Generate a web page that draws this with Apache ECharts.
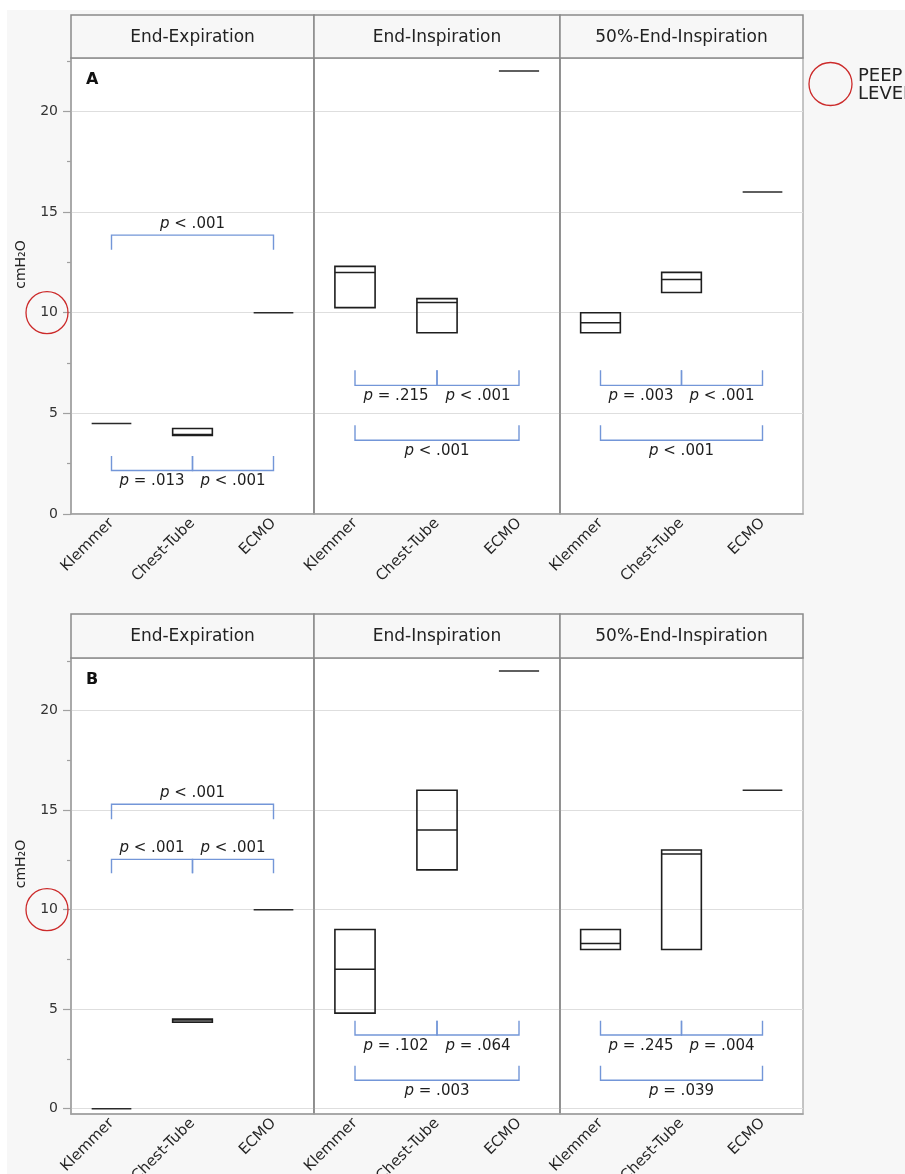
<!DOCTYPE html>
<html><head><meta charset="utf-8">
<script src="https://cdn.jsdelivr.net/npm/echarts@6/dist/echarts.min.js"></script>
<style>html,body{margin:0;padding:0;background:#fff}#c{width:905px;height:1174px}</style>
</head><body><div id="c"></div>
<script>
// ---------- data ----------
const categories = ['Klemmer', 'Chest-Tube', 'ECMO'];
const facetTitles = ['End-Expiration', 'End-Inspiration', '50%-End-Inspiration'];
const panelLabels = ['A', 'B'];
const yTickValues = [0, 5, 10, 15, 20];
const yMinorTickValues = [2.5, 7.5, 12.5, 17.5, 22.5];
const yRangeA = [0, 22.65];
const yRangeB = [-0.27, 22.65];
const peepLevel = 10;
const yAxisTitle = 'cmH₂O';
const legendLines = ['PEEP', 'LEVEL'];

// Panel A (low / median / high per category)
const aExpLow = [4.5, 3.9, 10];
const aExpMed = [4.5, 3.95, 10];
const aExpHigh = [4.5, 4.25, 10];
const aInsLow = [10.25, 9, 22];
const aInsMed = [12, 10.5, 22];
const aInsHigh = [12.3, 10.7, 22];
const aHalfLow = [9, 11, 16];
const aHalfMed = [9.5, 11.65, 16];
const aHalfHigh = [10, 12, 16];

// Panel B
const bExpLow = [0, 4.35, 10];
const bExpMed = [0, 4.45, 10];
const bExpHigh = [0, 4.5, 10];
const bInsLow = [4.8, 12, 22];
const bInsMed = [7, 14, 22];
const bInsHigh = [9, 16, 22];
const bHalfLow = [8, 8, 16];
const bHalfMed = [8.3, 12.8, 16];
const bHalfHigh = [9, 13, 16];

// brackets: [fromCategory, toCategory, lineValue, tipValue, label]
const aExpBrackets = [[0, 2, 13.85, 13.13, 'p < .001'], [0, 1, 2.16, 2.88, 'p = .013'], [1, 2, 2.16, 2.88, 'p < .001']];
const aInsBrackets = [[0, 1, 6.39, 7.14, 'p = .215'], [1, 2, 6.39, 7.14, 'p < .001'], [0, 2, 3.66, 4.41, 'p < .001']];
const aHalfBrackets = [[0, 1, 6.39, 7.14, 'p = .003'], [1, 2, 6.39, 7.14, 'p < .001'], [0, 2, 3.66, 4.41, 'p < .001']];
const bExpBrackets = [[0, 2, 15.3, 14.54, 'p < .001'], [0, 1, 12.53, 11.83, 'p < .001'], [1, 2, 12.53, 11.83, 'p < .001']];
const bInsBrackets = [[0, 1, 3.7, 4.42, 'p = .102'], [1, 2, 3.7, 4.42, 'p = .064'], [0, 2, 1.43, 2.15, 'p = .003']];
const bHalfBrackets = [[0, 1, 3.7, 4.42, 'p = .245'], [1, 2, 3.7, 4.42, 'p = .004'], [0, 2, 1.43, 2.15, 'p = .039']];

// ---------- layout ----------
const FF = 'DejaVu Sans';
const FX = [71, 314, 560, 803];
const PANELS = [
  { headerTop: 15, top: 58, bottom: 514, range: yRangeA,
    facets: [[aExpLow, aExpMed, aExpHigh, aExpBrackets], [aInsLow, aInsMed, aInsHigh, aInsBrackets], [aHalfLow, aHalfMed, aHalfHigh, aHalfBrackets]] },
  { headerTop: 614, top: 658, bottom: 1114, range: yRangeB,
    facets: [[bExpLow, bExpMed, bExpHigh, bExpBrackets], [bInsLow, bInsMed, bInsHigh, bInsBrackets], [bHalfLow, bHalfMed, bHalfHigh, bHalfBrackets]] }
];
const BRACKET_COLOR = '#7396d8';

const grid = [], xAxis = [], yAxis = [], series = [];
PANELS.forEach((P, p) => {
  P.facets.forEach((F, f) => {
    const g = p * 3 + f;
    grid.push({ left: FX[f], top: P.top, width: FX[f + 1] - FX[f], height: P.bottom - P.top,
      show: true, backgroundColor: '#ffffff', borderColor: '#b3b3b3', borderWidth: 1.5,
      containLabel: false, outerBoundsMode: 'none' });
    xAxis.push({ type: 'category', gridIndex: g, data: categories, boundaryGap: true,
      axisLine: { onZero: false, lineStyle: { color: '#a0a0a0', width: 1.5 } },
      axisTick: { inside: true, length: 7, alignWithLabel: true, lineStyle: { color: '#a8a8a8', width: 1.2 } },
      axisLabel: { rotate: 45, fontSize: 15, fontFamily: FF, color: '#262626', margin: 7, interval: 0 },
      splitLine: { show: false } });
    yAxis.push({ type: 'value', gridIndex: g, min: P.range[0], max: P.range[1], position: 'left',
      axisLine: { show: true, lineStyle: { color: f === 0 ? '#a0a0a0' : '#808080', width: 1.5 } },
      axisTick: { show: f === 0, length: 8, customValues: yTickValues, lineStyle: { color: '#a0a0a0', width: 1.2 } },
      axisLabel: { show: f === 0, customValues: yTickValues, fontSize: 14, fontFamily: FF, color: '#333', margin: 13 },
      splitLine: { show: true, lineStyle: { color: '#dedede', width: 1.2 } } });
  });
});
// minor tick axes for leftmost facets
PANELS.forEach((P, p) => {
  yAxis.push({ type: 'value', gridIndex: p * 3, min: P.range[0], max: P.range[1], position: 'left',
    axisLine: { show: false }, axisLabel: { show: false }, splitLine: { show: false },
    axisTick: { show: true, length: 4, customValues: yMinorTickValues, lineStyle: { color: '#a0a0a0', width: 1.2 } } });
});

function boxRender(params, api) {
  const ci = api.value(0);
  const lo = api.value(1), md = api.value(2), hi = api.value(3);
  const pl = api.coord([ci, lo]), pm = api.coord([ci, md]), ph = api.coord([ci, hi]);
  const w = api.size([1, 0])[0] * 0.49;
  const cx = pl[0];
  if (lo === hi) {
    return { type: 'line', shape: { x1: cx - w / 2, y1: pl[1], x2: cx + w / 2, y2: pl[1] },
      style: { stroke: '#2a2a2a', lineWidth: 1.5 } };
  }
  return { type: 'group', children: [
    { type: 'rect', shape: { x: cx - w / 2, y: ph[1], width: w, height: pl[1] - ph[1] },
      style: { fill: 'none', stroke: '#1e1e1e', lineWidth: 1.6 } },
    { type: 'line', shape: { x1: cx - w / 2, y1: pm[1], x2: cx + w / 2, y2: pm[1] },
      style: { stroke: '#1e1e1e', lineWidth: 1.5 } }
  ] };
}

function makeBracketRender(list) {
  return function (params, api) {
    const b = list[params.dataIndex];
    const a1 = api.coord([b[0], b[2]]), a2 = api.coord([b[1], b[2]]);
    const tipY = api.coord([b[0], b[3]])[1];
    const above = b[3] < b[2];
    const label = b[4].replace(/^p/, '{i|p}');
    return { type: 'group', children: [
      { type: 'polyline', shape: { points: [[a1[0], tipY], [a1[0], a1[1]], [a2[0], a2[1]], [a2[0], tipY]] },
        style: { stroke: BRACKET_COLOR, lineWidth: 1.4, fill: 'none' } },
      { type: 'text', x: (a1[0] + a2[0]) / 2, y: a1[1] + (above ? -11 : 11),
        style: { text: label, align: 'center', verticalAlign: 'middle', fill: '#1e1e1e',
          fontSize: 15, fontFamily: FF,
          rich: { i: { fontStyle: 'italic', fontSize: 15, fontFamily: FF, fill: '#1e1e1e' } } } }
    ] };
  };
}

PANELS.forEach((P, p) => {
  P.facets.forEach((F, f) => {
    const g = p * 3 + f;
    const [low, med, high, br] = F;
    series.push({ type: 'custom', xAxisIndex: g, yAxisIndex: g, z: 5, clip: false,
      encode: { x: 0, y: [1, 2, 3] },
      data: categories.map((c, i) => [i, low[i], med[i], high[i]]),
      renderItem: boxRender });
    series.push({ type: 'custom', xAxisIndex: g, yAxisIndex: g, z: 6, clip: false,
      encode: { x: [0, 1], y: [2, 3] },
      data: br.map(b => [b[0], b[1], b[2], b[3]]),
      renderItem: makeBracketRender(br) });
  });
});

const chart = echarts.init(document.getElementById('c'), null, { renderer: 'canvas' });
chart.setOption({
  backgroundColor: '#f7f7f7',
  animation: false,
  grid, xAxis, yAxis, series
});

// ---------- annotations ----------
const graphic = [
  { type: 'rect', shape: { x: 0, y: 0, width: 905, height: 10 }, style: { fill: '#ffffff' }, z: 1 },
  { type: 'rect', shape: { x: 0, y: 0, width: 7, height: 1174 }, style: { fill: '#ffffff' }, z: 1 }
];
PANELS.forEach((P, p) => {
  facetTitles.forEach((t, f) => {
    graphic.push({ type: 'rect', shape: { x: FX[f], y: P.headerTop, width: FX[f + 1] - FX[f], height: P.top - P.headerTop },
      style: { fill: '#f7f7f7', stroke: '#8a8a8a', lineWidth: 1.5 }, z: 10 });
    graphic.push({ type: 'text', x: (FX[f] + FX[f + 1]) / 2, y: (P.headerTop + P.top) / 2 + 1,
      style: { text: t, align: 'center', verticalAlign: 'middle', fontSize: 17, fontFamily: FF, fill: '#222' }, z: 11 });
  });
  graphic.push({ type: 'text', x: 86, y: P.top + 22,
    style: { text: panelLabels[p], align: 'left', verticalAlign: 'middle', fontSize: 16, fontWeight: 'bold', fontFamily: FF, fill: '#111' }, z: 11 });
  graphic.push({ type: 'text', x: 21, y: (P.headerTop + P.bottom) / 2, rotation: Math.PI / 2,
    style: { text: yAxisTitle, align: 'center', verticalAlign: 'middle', fontSize: 14, fontFamily: FF, fill: '#222' }, z: 11 });
  const yPeep = chart.convertToPixel({ yAxisIndex: p * 3 }, peepLevel);
  graphic.push({ type: 'circle', shape: { cx: 47, cy: yPeep, r: 21 },
    style: { fill: 'none', stroke: '#cc2a2a', lineWidth: 1.3 }, z: 12 });
});
// legend
graphic.push({ type: 'circle', shape: { cx: 830.5, cy: 84, r: 21.5 },
  style: { fill: 'none', stroke: '#cc2a2a', lineWidth: 1.3 }, z: 12 });
graphic.push({ type: 'text', x: 858, y: 76,
  style: { text: legendLines[0], align: 'left', verticalAlign: 'middle', fontSize: 18, fontFamily: FF, fill: '#222' }, z: 12 });
graphic.push({ type: 'text', x: 858, y: 94.5,
  style: { text: legendLines[1], align: 'left', verticalAlign: 'middle', fontSize: 18, fontFamily: FF, fill: '#222' }, z: 12 });

chart.setOption({ graphic });
</script>
</body></html>
